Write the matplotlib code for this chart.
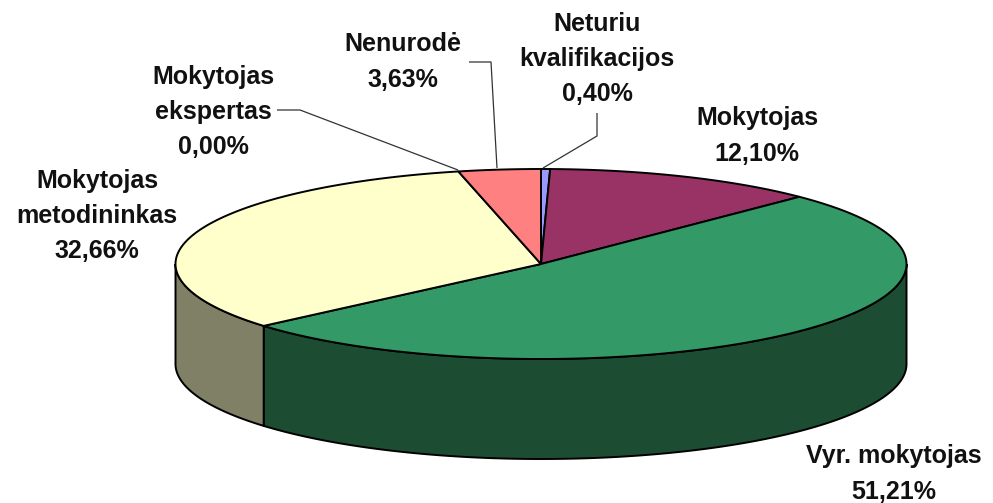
import numpy as np
import matplotlib
matplotlib.use("Agg")
import matplotlib.pyplot as plt
from matplotlib.patches import Polygon

plt.rcParams['font.family'] = ['Liberation Sans', 'DejaVu Sans']

categories = ["Neturiu\nkvalifikacijos", "Mokytojas", "Vyr. mokytojas",
              "Mokytojas\nmetodininkas", "Mokytojas\nekspertas", "Nenurodė"]
values = [0.40, 12.10, 51.21, 32.66, 0.00, 3.63]
value_labels = ["0,40%", "12,10%", "51,21%", "32,66%", "0,00%", "3,63%"]
top_colors = ["#9999FF", "#993366", "#339966", "#FFFFCC", "#00FFFF", "#FF8080"]
side_colors = ["#4D4D80", "#4D1A33", "#1C4D33", "#808066", "#008080", "#804040"]
label_pos = [(597, 59), (757, 136), (894, 474), (97, 216), (213, 112), (403, 62)]

cx, cy, rx, ry, depth = 541, 264, 365.5, 95, 100

fig = plt.figure(figsize=(9.93, 5.03), dpi=100)
ax = fig.add_axes([0, 0, 1, 1])
ax.set_xlim(0, 993)
ax.set_ylim(503, 0)
ax.axis("off")

def pt(frac):
    a = 2 * np.pi * np.asarray(frac)
    return cx + rx * np.sin(a), cy - ry * np.cos(a)

edges = np.concatenate([[0], np.cumsum(values)]) / 100.0

for i in range(len(values)):
    lo, hi = max(edges[i], .25), min(edges[i + 1], .75)
    if hi <= lo:
        continue
    t = np.linspace(lo, hi, 200)
    x, y = pt(t)
    poly = np.r_[np.c_[x, y], np.c_[x, y + depth][::-1]]
    ax.add_patch(Polygon(poly, closed=True, fc=side_colors[i], ec="black", lw=1.4, zorder=2))

for i in range(len(values)):
    if values[i] <= 0:
        continue
    t = np.linspace(edges[i], edges[i + 1], 300)
    x, y = pt(t)
    poly = np.r_[[[cx, cy]], np.c_[x, y]]
    ax.add_patch(Polygon(poly, closed=True, fc=top_colors[i], ec="black", lw=1.4, zorder=3))

leaders = [([597, 597, 543], [113, 136, 168]),
           ([277, 300, 458], [110, 110, 170]),
           ([469, 491, 497], [62, 62, 168])]
for lx, ly in leaders:
    ax.plot(lx, ly, color="#333333", lw=0.9, zorder=4, solid_capstyle="butt")

for name, val, (tx, ty) in zip(categories, value_labels, label_pos):
    ax.text(tx, ty, name + "\n" + val, ha="center", va="center", fontsize=18,
            fontweight="bold", color="#111111", linespacing=1.58, zorder=5)

fig.savefig("out.png", dpi=100)
